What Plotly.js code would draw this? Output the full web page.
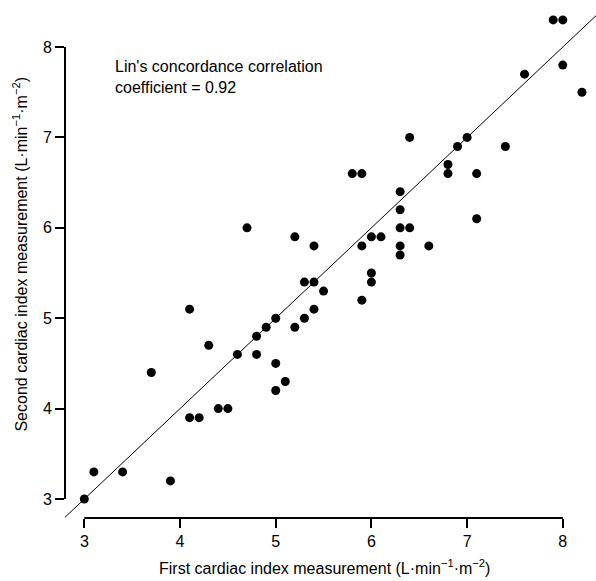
<!DOCTYPE html>
<html>
<head>
<meta charset="utf-8">
<script src="https://cdn.plot.ly/plotly-3.0.1.min.js"></script>
<style>html,body{margin:0;padding:0;background:#fff;}#chart{width:596px;height:581px;}</style>
</head>
<body>
<div id="chart"></div>
<script>
const firstCI = [3.0,3.1,3.4,3.7,3.9,4.1,4.1,4.2,4.3,4.4,4.5,4.6,4.7,4.8,4.8,4.9,5.0,5.0,5.0,5.1,5.2,5.2,5.3,5.3,5.4,5.4,5.4,5.5,5.8,5.9,5.9,5.9,6.0,6.0,6.0,6.1,6.3,6.3,6.3,6.3,6.3,6.4,6.4,6.6,6.8,6.8,6.9,7.0,7.1,7.1,7.4,7.6,7.9,8.0,8.0,8.2];
const secondCI = [3.0,3.3,3.3,4.4,3.2,5.1,3.9,3.9,4.7,4.0,4.0,4.6,6.0,4.8,4.6,4.9,5.0,4.5,4.2,4.3,5.9,4.9,5.4,5.0,5.8,5.4,5.1,5.3,6.6,6.6,5.8,5.2,5.9,5.5,5.4,5.9,6.4,6.2,6.0,5.8,5.7,7.0,6.0,5.8,6.7,6.6,6.9,7.0,6.6,6.1,6.9,7.7,8.3,8.3,7.8,7.5];
const identityLine = [2.7, 8.6];
const tickValues = [3,4,5,6,7,8];
const tickLabels = ['3','4','5','6','7','8'];

const font = 'Liberation Sans, Arial, sans-serif';

const traces = [
  {x: identityLine, y: identityLine, mode: 'lines', type: 'scatter',
   line: {color: '#000', width: 1}, hoverinfo: 'skip', showlegend: false},
  {x: firstCI, y: secondCI, mode: 'markers', type: 'scatter',
   marker: {color: '#000', size: 9, line: {width: 0}}, showlegend: false}
];

const layout = {
  width: 596, height: 581,
  margin: {l: 65, r: 0, t: 5, b: 63},
  paper_bgcolor: '#fff', plot_bgcolor: '#fff',
  font: {family: font, size: 16, color: '#000'},
  xaxis: {range: [2.798, 8.347], tickvals: tickValues, ticktext: tickLabels,
    ticks: 'outside', ticklen: 9, tickwidth: 2, tickcolor: '#000',
    showline: false, showgrid: false, zeroline: false,
    tickfont: {family: font, size: 16, color: '#000'}},
  yaxis: {range: [2.790, 8.465], tickvals: tickValues, ticktext: tickLabels,
    ticks: 'outside', ticklen: 9, tickwidth: 2, tickcolor: '#000',
    showline: false, showgrid: false, zeroline: false,
    tickfont: {family: font, size: 16, color: '#000'}},
  shapes: [
    {type: 'line', xref: 'x', yref: 'paper', x0: 3, x1: 8, y0: 0, y1: 0,
     line: {color: '#000', width: 2}},
    {type: 'line', xref: 'paper', yref: 'y', x0: 0, x1: 0, y0: 3, y1: 8,
     line: {color: '#000', width: 2}}
  ],
  annotations: [
    {xref: 'paper', yref: 'paper', x: 0.0905, y: 0.9, xanchor: 'left', yanchor: 'top',
     align: 'left', showarrow: false,
     text: "Lin's concordance correlation<br>coefficient = 0.92",
     font: {family: font, size: 16, color: '#000'}},
    {xref: 'paper', yref: 'paper', x: 0.4887, y: -0.0955, xanchor: 'center', yanchor: 'middle',
     showarrow: false,
     text: 'First cardiac index measurement (L·min<sup>−1</sup>·m<sup>−2</sup>)',
     font: {family: font, size: 16, color: '#000'}},
    {xref: 'paper', yref: 'paper', x: -0.0847, y: 0.5136, xanchor: 'center', yanchor: 'middle',
     showarrow: false, textangle: -90,
     text: 'Second cardiac index measurement (L·min<sup>−1</sup>·m<sup>−2</sup>)',
     font: {family: font, size: 16, color: '#000'}}
  ]
};

Plotly.newPlot('chart', traces, layout, {displayModeBar: false, staticPlot: true});
</script>
</body>
</html>
